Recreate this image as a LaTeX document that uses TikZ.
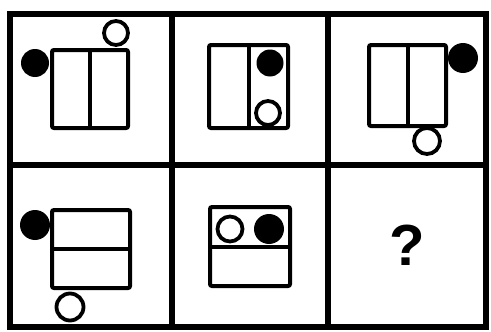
\documentclass[tikz,border=0pt]{standalone}
\usepackage{fontspec}
\setmainfont{Liberation Sans}
\usetikzlibrary{positioning}

\begin{document}
\begin{tikzpicture}[
  x=1pt, y=-1pt,
  frame/.style={line width=5.5pt, line cap=round},
  panel/.style={rectangle, draw, line width=4pt, rounded corners=2pt,
                minimum width=#1, inner sep=0pt},
  split/.style={line width=4pt},
  dot/.style={circle, fill=black, inner sep=0pt, minimum size=#1},
  ring/.style={circle, draw, fill=white, line width=3.8pt, inner sep=0pt, minimum size=#1},
  qmark/.style={font=\fontsize{58}{60}\selectfont\bfseries}
]
\useasboundingbox (0,0) rectangle (491,332);

% Grid
\draw[frame] (10,14) rectangle (486,327);
\draw[frame] (172,14) -- (172,327);
\draw[frame] (328,14) -- (328,327);
\draw[frame] (10,165) -- (486,165);

% Panel 1
\node[panel=76, minimum height=78] (p1) at (90,89) {};
\draw[split] (p1.north) -- (p1.south);
\node[dot=28] (p1dot) at (35,63) {};
\node[ring=24] (p1ring) at (116,33) {};

% Panel 2
\node[panel=79, minimum height=83] (p2) at (248.5,86.5) {};
\draw[split] (p2.north) -- (p2.south);
\node[dot=27] (p2dot) at (270,63) {};
\node[ring=24] (p2ring) at (268,113) {};

% Panel 3
\node[panel=77, minimum height=81] (p3) at (407.5,85.5) {};
\draw[split] (p3.north) -- (p3.south);
\node[dot=30] (p3dot) at (463,58) {};
\node[ring=26] (p3ring) at (427,141) {};

% Panel 4
\node[panel=78, minimum height=78] (p4) at (91,249) {};
\draw[split] (p4.west) -- (p4.east);
\node[dot=30] (p4dot) at (35,225) {};
\node[ring=27] (p4ring) at (70,307) {};

% Panel 5
\node[panel=80, minimum height=79] (p5) at (250,246.5) {};
\draw[split] (p5.west) -- (p5.east);
\node[ring=25] (p5ring) at (230,229) {};
\node[dot=30] (p5dot) at (269,229) {};

% Panel 6
\node[qmark] (q) at (407,245) {?};

\end{tikzpicture}
\end{document}
